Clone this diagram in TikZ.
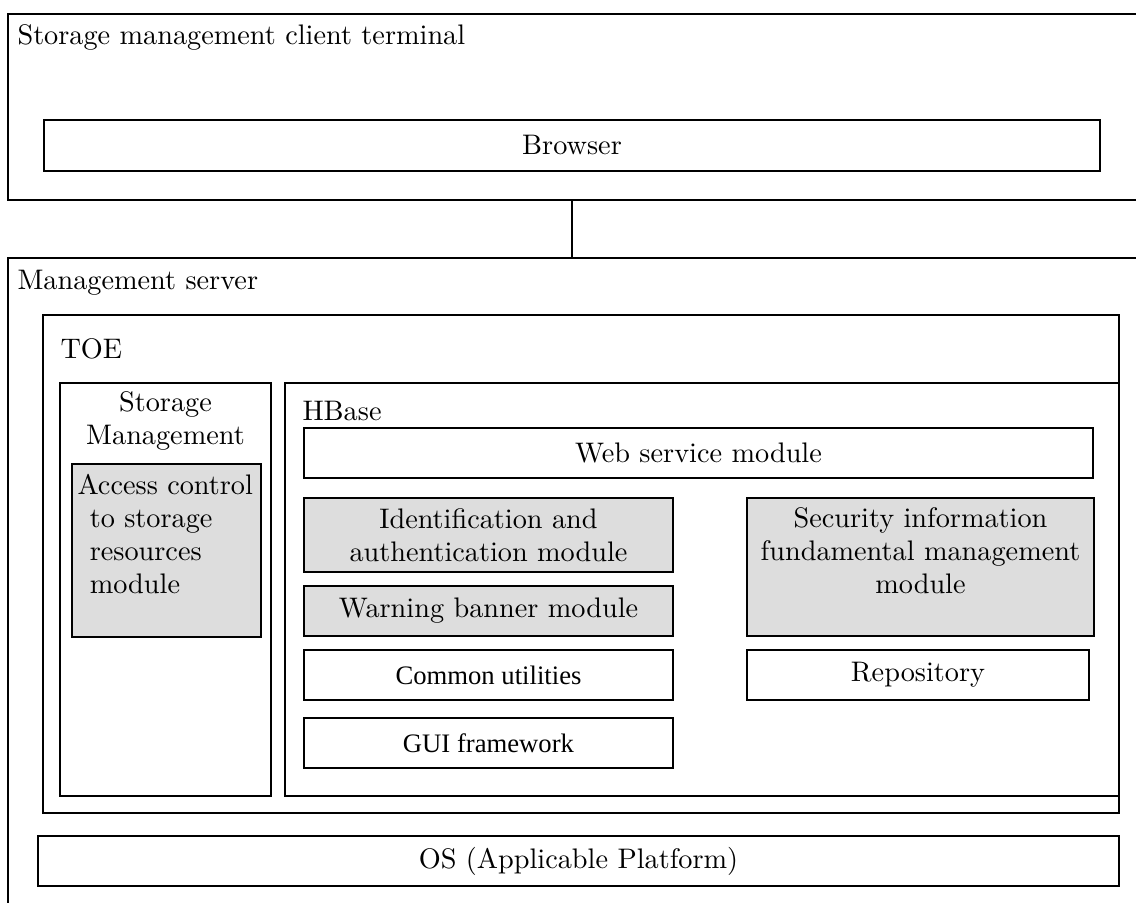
\documentclass[tikz,border=0pt]{standalone}
\usepackage{fontspec}
\newfontfamily\timesfont{Liberation Serif}
\usetikzlibrary{fit}
\definecolor{modgray}{RGB}{221,221,221}
\begin{document}
\begin{tikzpicture}[x=0.375pt, y=-0.375pt,
  box/.style={draw, line width=0.8pt, inner sep=0pt},
  shaded/.style={box, fill=modgray},
  txt/.style={inner sep=0pt, font=\fontsize{10.6}{12.4}\selectfont, align=center},
  tms/.style={inner sep=0pt, font=\timesfont\fontsize{10}{12}\selectfont}]
\useasboundingbox (0,0) rectangle (1136,903);
% client side
\node[box, fit={(8,14) (1160,200)}] (client) {};
\node[txt, anchor=base west] (clientlbl) at (17,45) {Storage management client terminal};
\node[box, fit={(44,120) (1100,171)}] (browser) {};
\node[txt] (browserlbl) at (browser.center) {Browser};
% server side
\node[box, fit={(8,258) (1160,940)}] (server) {};
\node[txt, anchor=base west] (serverlbl) at (17,289) {Management server};
\draw[line width=0.8pt] (client.south -| browser.south) -- (server.north -| browser.south);
\node[box, fit={(43,315) (1119,813)}] (toe) {};
\node[txt, anchor=base west] (toelbl) at (60,358) {TOE};
% storage management
\node[box, fit={(60,383) (271,796)}] (stmgmt) {};
\node[txt, anchor=north] (stmgmtlbl) at (165.5,391) {Storage\\Management};
\node[shaded, fit={(72,464) (261,637)}] (access) {};
\node[txt, align=left, anchor=north west] (accesslbl) at (77,474)
  {Access control\\\hspace*{4.6pt}to storage\\\hspace*{4.6pt}resources\\\hspace*{4.6pt}module};
% hbase
\node[box, fit={(285,383) (1119,796)}] (hbase) {};
\node[txt, anchor=base west] (hbaselbl) at (302,420) {HBase};
\node[box, fit={(304,428) (1093,478)}] (web) {};
\node[txt] (weblbl) at (web.center) {Web service module};
\node[shaded, fit={(304,498) (673,572)}] (ident) {};
\node[txt] (identlbl) at (ident.center) {Identification and\\authentication module};
\node[shaded, fit={(304,586) (673,636)}] (warn) {};
\node[txt] (warnlbl) at (warn.center) {Warning banner module};
\node[box, fit={(304,650) (673,700)}] (common) {};
\node[tms] (commonlbl) at (common.center) {Common utilities};
\node[box, fit={(304,718) (673,768)}] (gui) {};
\node[tms] (guilbl) at (gui.center) {GUI framework};
\node[shaded, fit={(747,498) (1094,636)}] (secinfo) {};
\node[txt, anchor=north] (secinfolbl) at (920.5,507)
  {Security information\\fundamental management\\module};
\node[box, fit={(747,650) (1089,700)}] (repo) {};
\node[txt] (repolbl) at (repo.center) {Repository};
% platform
\node[box, fit={(38,836) (1119,886)}] (os) {};
\node[txt] (oslbl) at (os.center) {OS (Applicable Platform)};
\end{tikzpicture}
\end{document}
